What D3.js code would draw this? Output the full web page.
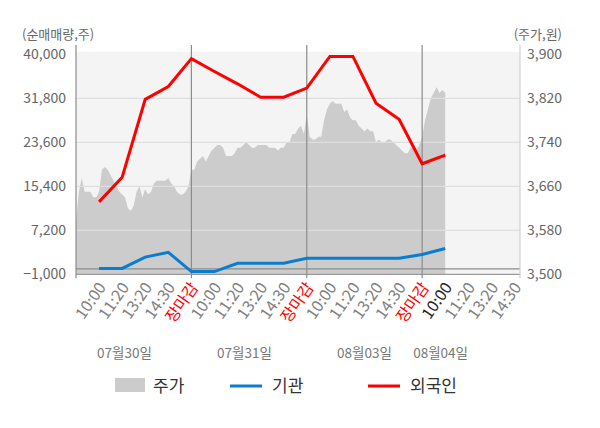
<!DOCTYPE html>
<html><head><meta charset="utf-8">
<script src="https://cdn.jsdelivr.net/npm/d3@7/dist/d3.min.js"></script>
<style>
html,body{margin:0;padding:0;background:#fff;}
svg{display:block;font-family:"Noto Sans CJK KR","Noto Sans",sans-serif;}
</style></head>
<body>
<svg id="chart" width="600" height="428"></svg>
<script>
// ---- data ----
const timeLabels = ["10:00","11:20","13:20","14:30","장마감",
                    "10:00","11:20","13:20","14:30","장마감",
                    "10:00","11:20","13:20","14:30","장마감",
                    "10:00","11:20","13:20","14:30"];
const dateLabels = ["07월30일","07월31일","08월03일","08월04일"];
const datePositions = [2.1, 7.3, 12.5, 15.8];
const foreignNet = [12500,17100,31600,34000,39200,36800,34500,32000,32000,33700,39600,39600,30900,27900,19600,21200];
const institutionNet = [100,100,2200,3100,-500,-500,1050,1050,1050,2000,2000,2000,2000,2000,2700,3800];
const price = [3595,3650,3675,3650,3650,3650,3640,3640,3650,3690,
 3695,3690,3680,3670,3660,3650,3645,3640,3620,3615,
 3625,3650,3660,3640,3655,3645,3650,3665,3670,3670,
 3670,3670,3675,3665,3660,3650,3645,3645,3650,3660,
 3690,3690,3705,3710,3715,3705,3715,3725,3730,3735,
 3735,3730,3715,3715,3715,3720,3730,3730,3735,3740,
 3735,3730,3730,3735,3735,3735,3735,3730,3730,3730,
 3725,3730,3730,3740,3740,3755,3755,3765,3770,3755,
 3790,3750,3745,3745,3750,3750,3780,3800,3810,3815,
 3810,3810,3810,3795,3800,3785,3780,3780,3770,3765,
 3760,3765,3760,3760,3740,3745,3740,3740,3745,3745,
 3740,3735,3730,3725,3720,3720,3730,3730,3725,3735,
 3750,3780,3800,3820,3830,3840,3830,3835,3830];
const samplesPerSlot = 8;
const leftTicks = [-1000,7200,15400,23600,31800,40000];
const rightTicks = [3500,3580,3660,3740,3820,3900];
const daySeparators = [5,10,15];
const highlightIndex = 16;

// ---- layout ----
const svg = d3.select("#chart");
const L = 76, R = 520, T = 54.3, B = 274.3;
const x = d3.scaleLinear().domain([0, 19.24]).range([L, R]);
const yL = d3.scaleLinear().domain([-1000, 40000]).range([B, T]);
const yR = d3.scaleLinear().domain([3500, 3900]).range([B, T]);
const fmt = d3.format(",");

svg.append("rect").attr("x", L).attr("y", T - 2.6).attr("width", R - L).attr("height", B - T + 2.6).attr("fill", "#f4f4f4");

// price area
const area = d3.area()
  .x((d, i) => x(i / samplesPerSlot))
  .y0(B)
  .y1(d => yR(d));
svg.append("path").datum(price).attr("d", area).attr("fill", "#cccccc");

// gridlines
svg.append("g").selectAll("line").data(leftTicks.slice(1, -1)).join("line")
  .attr("x1", L).attr("x2", R).attr("y1", d => yL(d)).attr("y2", d => yL(d))
  .attr("stroke", "#dedede").attr("stroke-width", 1.2);

// zero line & bottom axis
svg.append("line").attr("x1", L).attr("x2", R).attr("y1", yL(0)).attr("y2", yL(0)).attr("stroke", "#8c8c8c").attr("stroke-width", 1.2);
svg.append("line").attr("x1", L).attr("x2", R).attr("y1", B).attr("y2", B).attr("stroke", "#9a9a9a").attr("stroke-width", 1.2);

// separators and left/right axis lines
svg.append("g").selectAll("line").data(daySeparators).join("line")
  .attr("x1", d => x(d)).attr("x2", d => x(d)).attr("y1", 45).attr("y2", B + 4)
  .attr("stroke", "#8c8c8c").attr("stroke-width", 1.2);
svg.append("line").attr("x1", L).attr("x2", L).attr("y1", 45).attr("y2", B + 4).attr("stroke", "#8c8c8c").attr("stroke-width", 1.2);
svg.append("line").attr("x1", R).attr("x2", R).attr("y1", 45).attr("y2", B + 4).attr("stroke", "#d0d0d0").attr("stroke-width", 1.2);

// lines
const lineGen = d3.line().x((d, i) => x(i + 1)).y(d => yL(d));
svg.append("path").datum(institutionNet).attr("d", lineGen).attr("fill", "none").attr("stroke", "#0a7dd0").attr("stroke-width", 3);
svg.append("path").datum(foreignNet).attr("d", lineGen).attr("fill", "none").attr("stroke", "#ff0000").attr("stroke-width", 3);

// y tick labels
svg.append("g").selectAll("text").data(leftTicks).join("text")
  .attr("x", 66).attr("y", d => yL(d)).attr("dy", "0.35em").attr("text-anchor", "end")
  .attr("font-size", 14).attr("fill", "#666").text(d => fmt(d));
svg.append("g").selectAll("text").data(rightTicks).join("text")
  .attr("x", 527).attr("y", d => yR(d)).attr("dy", "0.35em").attr("text-anchor", "start")
  .attr("font-size", 14).attr("fill", "#666").text(d => fmt(d));

// axis titles
svg.append("text").attr("x", 22).attr("y", 38.5).attr("font-size", 13).attr("fill", "#666").text("(순매매량,주)");
svg.append("text").attr("x", 562).attr("y", 38.5).attr("text-anchor", "end").attr("font-size", 13).attr("fill", "#666").text("(주가,원)");

// x tick labels
svg.append("g").selectAll("text").data(timeLabels).join("text")
  .attr("transform", (d, i) => `translate(${x(i + 1) + 3},${B + 10}) rotate(-55)`)
  .attr("text-anchor", "end").attr("dy", "0.35em")
  .attr("font-size", 16)
  .attr("fill", (d, i) => d === "장마감" ? "#ff0000" : (i + 1 === highlightIndex ? "#222" : "#808080"))
  .text(d => d);

// date labels
svg.append("g").selectAll("text").data(dateLabels).join("text")
  .attr("x", (d, i) => x(datePositions[i])).attr("y", 358).attr("text-anchor", "middle")
  .attr("font-size", 13.5).attr("fill", "#777").text(d => d);

// legend
const lg = svg.append("g");
lg.append("rect").attr("x", 115).attr("y", 378).attr("width", 30).attr("height", 14).attr("fill", "#cccccc");
lg.append("text").attr("x", 153).attr("y", 386).attr("dy", "0.35em").attr("font-size", 17).attr("fill", "#333").text("주가");
lg.append("line").attr("x1", 230).attr("x2", 262).attr("y1", 386).attr("y2", 386).attr("stroke", "#0a7dd0").attr("stroke-width", 3);
lg.append("text").attr("x", 272).attr("y", 386).attr("dy", "0.35em").attr("font-size", 17).attr("fill", "#333").text("기관");
lg.append("line").attr("x1", 368).attr("x2", 400).attr("y1", 386).attr("y2", 386).attr("stroke", "#ff0000").attr("stroke-width", 3);
lg.append("text").attr("x", 410).attr("y", 386).attr("dy", "0.35em").attr("font-size", 17).attr("fill", "#333").text("외국인");
</script>
</body></html>
